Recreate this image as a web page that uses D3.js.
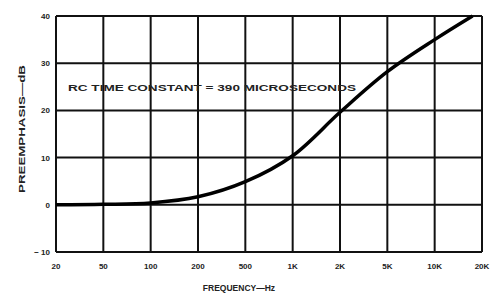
<!DOCTYPE html>
<html>
<head>
<meta charset="utf-8">
<script src="https://cdn.jsdelivr.net/npm/d3@7"></script>
<style>
  body { margin: 0; background: #fff; }
  text { font-family: "Liberation Sans", Arial, sans-serif; fill: #222; }
</style>
</head>
<body>
<div id="chart"></div>
<script>
// evenly spaced frequency ticks, as printed on the original
const FREQS = ["20", "50", "100", "200", "500", "1K", "2K", "5K", "10K", "20K"];
const DB_TICKS = [-10, 0, 10, 20, 30, 40];
// preemphasis read at each tick (last point where curve meets the top)
const CURVE_X = [0, 1, 2, 3, 4, 5, 6, 7, 8, 8.8];
const CURVE_DB = [0, 0.1, 0.4, 1.7, 4.9, 10.4, 19.6, 28.2, 35, 40];

const width = 490, height = 297;
const margin = { top: 16, right: 8, bottom: 45, left: 56 };
const w = width - margin.left - margin.right;
const h = height - margin.top - margin.bottom;

const svg = d3.select("#chart").append("svg")
  .attr("width", width).attr("height", height);
const g = svg.append("g").attr("transform", `translate(${margin.left},${margin.top})`);

const x = d3.scaleLinear().domain([0, FREQS.length - 1]).range([0, w]);
const y = d3.scaleLinear().domain([-10, 40]).range([h, 0]);

// grid
g.append("g").selectAll("line").data(FREQS).join("line")
  .attr("x1", (d, i) => x(i)).attr("x2", (d, i) => x(i))
  .attr("y1", 0).attr("y2", h)
  .attr("stroke", "#111").attr("stroke-width", 2);
g.append("g").selectAll("line").data(DB_TICKS).join("line")
  .attr("x1", 0).attr("x2", w)
  .attr("y1", d => y(d)).attr("y2", d => y(d))
  .attr("stroke", "#111").attr("stroke-width", 2);

// tick labels
g.append("g").selectAll("text").data(FREQS).join("text")
  .attr("x", (d, i) => x(i)).attr("y", h + 17)
  .attr("text-anchor", "middle").attr("font-size", 8).attr("font-weight", "bold")
  .attr("fill", "#333")
  .text(d => d);
g.append("g").selectAll("text").data(DB_TICKS).join("text")
  .attr("x", -6).attr("y", d => y(d) + 3)
  .attr("text-anchor", "end").attr("font-size", 8).attr("font-weight", "bold")
  .attr("fill", "#333")
  .text(d => d < 0 ? "\u2212 " + Math.abs(d) : d);

// curve
const line = d3.line()
  .x((d, i) => x(CURVE_X[i]))
  .y(d => y(d))
  .curve(d3.curveCatmullRom.alpha(0.5));
g.append("path").datum(CURVE_DB)
  .attr("fill", "none").attr("stroke", "#000").attr("stroke-width", 3.5)
  .attr("d", line);

// annotation
g.append("text")
  .attr("x", 12).attr("y", 75)
  .attr("font-size", 8.5).attr("font-weight", "bold")
  .attr("textLength", 288).attr("lengthAdjust", "spacingAndGlyphs")
  .text("RC TIME CONSTANT  =  390 MICROSECONDS");

// axis titles
svg.append("text")
  .attr("transform", "translate(25,129) rotate(-90)")
  .attr("text-anchor", "middle").attr("font-size", 8.5).attr("font-weight", "bold")
  .attr("textLength", 128).attr("lengthAdjust", "spacingAndGlyphs")
  .text("PREEMPHASIS\u2014dB");
svg.append("text")
  .attr("x", 239).attr("y", 291)
  .attr("text-anchor", "middle").attr("font-size", 8.5).attr("font-weight", "bold")
  .text("FREQUENCY\u2014Hz");
</script>
</body>
</html>
